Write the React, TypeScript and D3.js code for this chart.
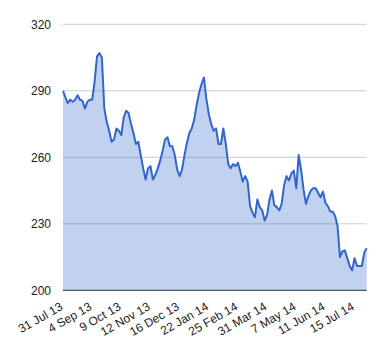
import React from "react";
import * as d3 from "d3";

const values: number[] = [
  290, 287, 284.5, 286, 285, 286, 288, 286, 285.5, 282,
  285, 286, 286, 294, 305.5, 307, 305, 282, 276, 272,
  267, 268, 273, 272, 270, 278, 281, 280, 275, 271,
  266, 267, 261, 255, 250, 255, 256, 250, 252, 255,
  258.5, 263, 268, 269, 265, 265, 261, 254.5, 251.5, 254.5,
  261, 266.5, 271, 273, 277, 283.5, 289, 293, 296, 286.5,
  279.5, 275, 272, 273, 266, 266, 273, 266, 257, 255,
  257, 256, 257.5, 253.5, 249, 251.5, 249, 238, 235, 233,
  241, 237.5, 236, 231.5, 234, 241, 245, 238.3, 237.5, 236,
  239, 247.4, 251.5, 249.5, 252.7, 254, 246, 261, 254.5, 245.5,
  239, 242.5, 245, 246, 246, 244, 242, 244.5, 239.5, 238,
  235.5, 235.5, 233.5, 229, 215, 217.5, 218, 214.5, 211, 209,
  214.5, 211, 211, 211, 217, 219,
];

const tickLabels: string[] = [
  "31 Jul 13", "4 Sep 13", "9 Oct 13", "12 Nov 13", "16 Dec 13", "22 Jan 14",
  "25 Feb 14", "31 Mar 14", "7 May 14", "11 Jun 14", "15 Jul 14",
];
const tickEvery = 12;
const yTicks: number[] = [200, 230, 260, 290, 320];

export default function App() {
  const W = 380, H = 360;
  const left = 63, right = 366.7, top = 24.3, bottom = 290.3;
  const x = d3.scaleLinear().domain([0, values.length - 1]).range([left, right]);
  const y = d3.scaleLinear().domain([200, 320]).range([bottom, top]);
  const line = d3.line<number>().x((_, i) => x(i)).y((d) => y(d));
  const area = d3.area<number>().x((_, i) => x(i)).y0(y(200)).y1((d) => y(d));
  const font = "Arial, 'Liberation Sans', sans-serif";
  return (
    <svg width={W} height={H} style={{ position: "absolute", left: 0, top: 0, background: "#fff" }}>
      {yTicks.filter((t) => t !== 200).map((t) => (
        <line key={t} x1={left} x2={right} y1={y(t)} y2={y(t)} stroke="#cccccc" strokeWidth={1} />
      ))}
      <path d={area(values) || ""} fill="#3366cc" fillOpacity={0.3} />
      <path d={line(values) || ""} fill="none" stroke="#3366cc" strokeWidth={2} strokeLinejoin="round" />
      <line x1={left} x2={right} y1={y(200)} y2={y(200)} stroke="#333333" strokeWidth={1} />
      {yTicks.map((t) => (
        <text key={t} x={51} y={y(t)} dy="0.35em" textAnchor="end" fontFamily={font} fontSize={12} fill="#222">
          {t}
        </text>
      ))}
      {tickLabels.map((lab, k) => {
        const tx = x(k * tickEvery) + 0.5;
        const ty = 309;
        return (
          <text key={lab} x={tx} y={ty} textAnchor="end" fontFamily={font} fontSize={12} fill="#222"
            transform={`rotate(-30 ${tx} ${ty})`}>
            {lab}
          </text>
        );
      })}
    </svg>
  );
}
